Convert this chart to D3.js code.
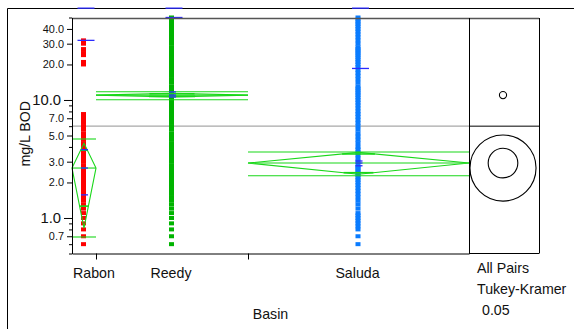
<!DOCTYPE html>
<html><head><meta charset="utf-8">
<script src="https://cdn.jsdelivr.net/npm/d3@7"></script>
<style>body{margin:0;background:#fff} svg{display:block} text{font-family:"Liberation Sans",Arial,sans-serif;fill:#111}</style>
</head><body><svg id="c" width="574" height="329"></svg>
<script>
// ---------------- data ----------------
const basins = ["Rabon", "Reedy", "Saluda"];
const groupShare = [24, 152, 221];          // group widths proportional to sample size
const pointColors = ["#ff0000", "#00b400", "#0a7cff"];
const rabonBOD = [32, 30, 27, 25, 24, 21, 20,
  7.6, 7.2, 6.8, 6.4, 6.0, 5.6, 5.2, 4.9, 4.6, 4.3, 4.0, 3.8, 3.6, 3.4, 3.2, 3.0, 2.8, 2.7, 2.6, 2.5, 2.4,
  2.3, 2.2, 2.1, 2.0, 1.9, 1.8, 1.7, 1.6, 1.5, 1.4, 1.3, 1.2, 1.1, 1.0, 0.9, 0.8, 0.7, 0.6];
const reedyBOD = [50, 48, 46, 44, 42, 40, 38, 36, 34, 32, 30, 28, 27, 26, 25, 24, 23, 22, 21, 20, 19, 18, 17, 16,
  15, 14, 13, 12.5, 12, 11.5, 11, 10.5, 10, 9.5, 9, 8.5, 8, 7.6, 7.2, 6.8, 6.4, 6.0, 5.6, 5.2, 4.9, 4.6, 4.3,
  4.0, 3.8, 3.6, 3.4, 3.2, 3.0, 2.8, 2.7, 2.6, 2.5, 2.4, 2.3, 2.2, 2.1, 2.0, 1.9, 1.8, 1.7, 1.6, 1.5, 1.4,
  1.3, 1.2, 1.1, 1.0, 0.9, 0.8, 0.7, 0.6];
const saludaBOD = [50, 48, 46, 44, 42, 40, 38, 36, 34, 32, 30, 28, 27, 26, 25, 24, 23, 22, 21, 20, 19, 18, 17, 16,
  15, 14, 13, 12.5, 12, 11.5, 11, 10.5, 10, 9.5, 9, 8.5, 8, 7.6, 7.2, 6.8, 6.4, 6.0, 5.6, 5.2, 4.9, 4.6, 4.3,
  4.0, 3.8, 3.6, 3.4, 3.2, 3.0, 2.8, 2.7, 2.6, 2.5, 2.4, 2.3, 2.2, 2.1, 2.0, 1.9, 1.8, 1.7, 1.6, 1.5, 1.4,
  1.3, 1.2, 1.1, 1.05, 1.0, 0.95, 0.9, 0.85, 0.8, 0.7, 0.6];
const groupMean    = [2.65, 11.0, 2.92];
const diamondUpper = [4.3, 11.4, 3.6];
const diamondLower = [0.82, 10.6, 2.35];
const overlapUpper = [3.75, 11.28, 3.49];
const overlapLower = [1.26, 10.72, 2.42];
const sdUpper      = [4.67, 11.75, 3.62];
const sdLower      = [0.69, 10.05, 2.28];
const errUpper     = [3.79, 11.7, 3.04];
const errLower     = [1.57, 10.6, 2.77];
const quantUpper   = [32, 50, 18.5];
const quantOffscale = [60, 60, 60];
const grandMean = 6.0;
const circleTop = [5.05, 11.8, 3.9];        // comparison circle upper extents
const labeledTicks = [0.7, 2, 3, 5, 7, 20, 30, 40];
const majorTicks = [1, 10];
const minorTicks = [0.5, 0.6, 0.8, 0.9, 4, 6, 8, 9, 50];
const panelText = ["All Pairs", "Tukey-Kramer", "0.05"];

// ---------------- layout ----------------
const svg = d3.select("#c");
const plot = {l: 72, r: 469, t: 18, b: 253.5};
const panel = {l: 469, r: 539};
const y = d3.scaleLog().domain([0.5, 50]).range([253.5, 17.5]);
const total = d3.sum(groupShare);
const cum = Array.from(d3.cumsum([0, ...groupShare]));
const x = d3.scaleLinear().domain([0, total]).range([plot.l, plot.r]);
const gL = i => x(cum[i]), gR = i => x(cum[i + 1]), gC = i => (gL(i) + gR(i)) / 2;
const green = "#19d719", blue = "#2b2bff";
const FS = 14.2;

// outer frame
svg.append("line").attr("x1", 7.5).attr("y1", 8.5).attr("x2", 574).attr("y2", 8.5).attr("stroke", "#000");
svg.append("line").attr("x1", 7.5).attr("y1", 8.5).attr("x2", 7.5).attr("y2", 329).attr("stroke", "#000");

// grand mean line
svg.append("line").attr("x1", plot.l).attr("x2", plot.r).attr("y1", y(grandMean)).attr("y2", y(grandMean))
  .attr("stroke", "#a8a8a8").attr("stroke-width", 1.3);

// points
const series = [rabonBOD, reedyBOD, saludaBOD];
series.forEach((vals, i) => {
  svg.append("g").selectAll("rect").data(vals).join("rect")
    .attr("x", gC(i) - 3).attr("y", d => y(d) - 2).attr("width", 5).attr("height", 4)
    .attr("fill", pointColors[i]);
});

// means diamonds and lines
basins.forEach((b, i) => {
  const g = svg.append("g").attr("fill", "none").attr("stroke", green).attr("stroke-width", 1.1);
  const L = gL(i), R = gR(i), C = gC(i);
  g.append("path").attr("d", `M${L},${y(groupMean[i])}L${C},${y(diamondUpper[i])}L${R},${y(groupMean[i])}L${C},${y(diamondLower[i])}Z`);
  [groupMean[i], sdUpper[i], sdLower[i]].forEach(v => {
    g.append("line").attr("x1", L).attr("x2", R).attr("y1", y(v)).attr("y2", y(v));
  });
  // overlap marks span the diamond at their height
  [[overlapUpper[i], diamondUpper[i]], [overlapLower[i], diamondLower[i]]].forEach(([v, tip]) => {
    const f = (y(v) - y(tip)) / (y(groupMean[i]) - y(tip));
    const hw = (R - L) / 2 * f;
    g.append("line").attr("x1", C - hw).attr("x2", C + hw).attr("y1", y(v)).attr("y2", y(v)).attr("stroke-width", 1.6);
  });
});

// blue marks
basins.forEach((b, i) => {
  const C = gC(i) + 2;
  [quantUpper[i], quantOffscale[i]].forEach(v => {
    svg.append("line").attr("x1", C - 8.5).attr("x2", C + 8.5).attr("y1", y(v)).attr("y2", y(v))
      .attr("stroke", blue).attr("stroke-width", 1.3);
  });
  [errUpper[i], groupMean[i], errLower[i]].forEach(v => {
    svg.append("line").attr("x1", C - 5).attr("x2", C + 2).attr("y1", y(v)).attr("y2", y(v))
      .attr("stroke", blue).attr("stroke-width", 1.3);
  });
});

// plot frame
svg.append("line").attr("x1", plot.l).attr("x2", panel.r).attr("y1", plot.t + 0.5).attr("y2", plot.t + 0.5)
  .attr("stroke", "#555").attr("stroke-width", 1.6);
svg.append("line").attr("x1", plot.r + 0.5).attr("x2", plot.r + 0.5).attr("y1", plot.t).attr("y2", plot.b)
  .attr("stroke", "#000");

// right panel
svg.append("line").attr("x1", panel.r + 0.5).attr("x2", panel.r + 0.5).attr("y1", plot.t).attr("y2", plot.b).attr("stroke", "#000");
svg.append("line").attr("x1", panel.l).attr("x2", panel.r).attr("y1", plot.b).attr("y2", plot.b).attr("stroke", "#000");
svg.append("line").attr("x1", panel.l).attr("x2", panel.r).attr("y1", y(grandMean)).attr("y2", y(grandMean)).attr("stroke", "#000");
const pc = (panel.l + panel.r) / 2 - 1;
[0, 2, 1].forEach(i => {
  svg.append("circle").attr("cx", pc).attr("cy", y(groupMean[i]))
    .attr("r", y(groupMean[i]) - y(circleTop[i])).attr("fill", "none").attr("stroke", "#000").attr("stroke-width", 1.1);
});
panelText.forEach((t, k) => {
  svg.append("text").attr("x", k === 2 ? 482 : 477).attr("y", 273 + k * 21).attr("font-size", FS).text(t);
});

// y axis
const ya = svg.append("g").attr("transform", `translate(${plot.l},0)`);
ya.call(d3.axisLeft(y).tickValues(labeledTicks).tickFormat(d3.format(".1f")).tickSize(5).tickSizeOuter(0))
  .call(g => g.selectAll("text").attr("font-size", 10.9).attr("font-family", "Liberation Sans, Arial, sans-serif").attr("fill", "#111"));
const yb = svg.append("g").attr("transform", `translate(${plot.l},0)`);
yb.call(d3.axisLeft(y).tickValues(majorTicks).tickFormat(d3.format(".1f")).tickSize(8).tickSizeOuter(0))
  .call(g => g.select(".domain").remove())
  .call(g => g.selectAll("text").attr("font-size", 14.8).attr("font-family", "Liberation Sans, Arial, sans-serif").attr("fill", "#111"));
const yc = svg.append("g").attr("transform", `translate(${plot.l},0)`);
yc.call(d3.axisLeft(y).tickValues(minorTicks).tickFormat("").tickSize(3).tickSizeOuter(0))
  .call(g => g.select(".domain").remove());
svg.selectAll(".tick line, .domain").attr("stroke", "#000");

// x axis
const xa = svg.append("g").attr("transform", `translate(0,${plot.b})`);
xa.call(d3.axisBottom(x).tickValues(cum.slice(1, -1)).tickFormat("").tickSize(6).tickSizeOuter(0));
xa.selectAll("line, path").attr("stroke", "#000");
basins.forEach((b, i) => {
  const t = svg.append("text").attr("y", 278).attr("font-size", FS).text(b);
  const w = t.node().getComputedTextLength();
  if (w > gR(i) - gL(i)) t.attr("x", gL(i) + 1);
  else t.attr("x", gC(i) - 1).attr("text-anchor", "middle");
});
svg.append("text").attr("x", (plot.l + plot.r) / 2).attr("y", 319).attr("text-anchor", "middle").attr("font-size", FS).text("Basin");
svg.append("text").attr("transform", `translate(30,${(plot.t + plot.b) / 2 - 2}) rotate(-90)`)
  .attr("text-anchor", "middle").attr("font-size", FS).text("mg/L BOD");
</script></body></html>
